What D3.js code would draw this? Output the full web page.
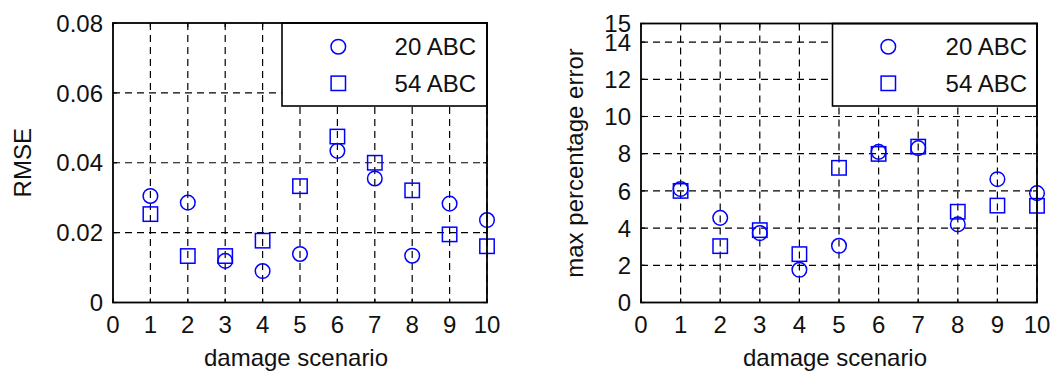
<!DOCTYPE html>
<html>
<head>
<meta charset="utf-8">
<script src="https://cdn.jsdelivr.net/npm/d3@7"></script>
<style>
  html, body { margin: 0; padding: 0; background: #fff; }
  svg { display: block; }
  text { font-family: "Liberation Sans", Arial, sans-serif; fill: #111; }
</style>
</head>
<body>
<svg id="chart" width="1053" height="374"></svg>
<script>
// ---- data ----
const scenarios = [1, 2, 3, 4, 5, 6, 7, 8, 9, 10];
const rmse20 = [0.0305, 0.0286, 0.0119, 0.0090, 0.0139, 0.0434, 0.0355, 0.0134, 0.0283, 0.0236];
const rmse54 = [0.0253, 0.0133, 0.0133, 0.0177, 0.0333, 0.0475, 0.0400, 0.0321, 0.0195, 0.0161];
const mpe20 = [6.1, 4.55, 3.73, 1.76, 3.05, 8.1, 8.3, 4.2, 6.63, 5.88];
const mpe54 = [6.0, 3.03, 3.89, 2.60, 7.24, 7.99, 8.38, 4.88, 5.21, 5.2];
const xTicks = [0, 1, 2, 3, 4, 5, 6, 7, 8, 9, 10];
const rmseTicks = [0, 0.02, 0.04, 0.06, 0.08];
const mpeTicks = [0, 2, 4, 6, 8, 10, 12, 14, 15];
const mpeGrid = [2, 4, 6, 8, 10, 12, 14];
const seriesNames = ["20 ABC", "54 ABC"];
const xLabel = "damage scenario";

const svg = d3.select("#chart");
const blue = "#0000ff";

function panel(cfg) {
  const x = d3.scaleLinear().domain([0, 10]).range([cfg.left, cfg.right]);
  const y = d3.scaleLinear().domain(cfg.yDomain).range([cfg.bottom, cfg.top]);
  const g = svg.append("g");

  // grid (dashed)
  const grid = g.append("g").attr("stroke", "#000").attr("stroke-width", 1.2)
    .attr("stroke-dasharray", "7,5");
  grid.selectAll("line.vx").data(scenarios).join("line")
    .attr("x1", d => x(d)).attr("x2", d => x(d))
    .attr("y1", cfg.top).attr("y2", cfg.bottom);
  grid.selectAll("line.hy").data(cfg.yGrid).join("line")
    .attr("x1", cfg.left).attr("x2", cfg.right)
    .attr("y1", d => y(d)).attr("y2", d => y(d));

  // ticks (inward) on all four sides
  const tk = 4;
  const ticks = g.append("g").attr("stroke", "#000").attr("stroke-width", 1.2);
  xTicks.forEach(v => {
    ticks.append("line").attr("x1", x(v)).attr("x2", x(v)).attr("y1", cfg.bottom).attr("y2", cfg.bottom - tk);
    ticks.append("line").attr("x1", x(v)).attr("x2", x(v)).attr("y1", cfg.top).attr("y2", cfg.top + tk);
  });
  cfg.yTicks.forEach(v => {
    ticks.append("line").attr("x1", cfg.left).attr("x2", cfg.left + tk).attr("y1", y(v)).attr("y2", y(v));
    ticks.append("line").attr("x1", cfg.right).attr("x2", cfg.right - tk).attr("y1", y(v)).attr("y2", y(v));
  });

  // legend box
  const lg = g.append("g");
  lg.append("rect").attr("x", cfg.legLeft).attr("y", cfg.top)
    .attr("width", cfg.right - cfg.legLeft).attr("height", cfg.legBottom - cfg.top)
    .attr("fill", "#fff").attr("stroke", "#000").attr("stroke-width", 1.6);
  const rowY = [46.7, 83.3];
  lg.append("circle").attr("cx", cfg.legMarkX).attr("cy", rowY[0]).attr("r", 7.3)
    .attr("fill", "none").attr("stroke", blue).attr("stroke-width", 1.5);
  lg.append("rect").attr("x", cfg.legMarkX - 7.2).attr("y", rowY[1] - 7.2)
    .attr("width", 14.4).attr("height", 14.4)
    .attr("fill", "none").attr("stroke", blue).attr("stroke-width", 1.5);
  seriesNames.forEach((n, i) => {
    lg.append("text").attr("x", cfg.legTextRight).attr("y", rowY[i]).attr("dy", "0.36em")
      .attr("text-anchor", "end").attr("font-size", 24).text(n);
  });

  // markers
  const m = g.append("g").attr("fill", "none").attr("stroke", blue).attr("stroke-width", 1.5);
  m.selectAll("circle").data(scenarios).join("circle")
    .attr("cx", d => x(d)).attr("cy", (d, i) => y(cfg.s1[i])).attr("r", 7.3);
  m.selectAll("rect").data(scenarios).join("rect")
    .attr("x", d => x(d) - 7.2).attr("y", (d, i) => y(cfg.s2[i]) - 7.2)
    .attr("width", 14.4).attr("height", 14.4);

  // frame
  g.append("rect").attr("x", cfg.left).attr("y", cfg.top)
    .attr("width", cfg.right - cfg.left).attr("height", cfg.bottom - cfg.top)
    .attr("fill", "none").attr("stroke", "#000").attr("stroke-width", 1.8);

  // tick labels
  g.selectAll("text.xt").data(xTicks).join("text")
    .attr("x", d => x(d)).attr("y", cfg.bottom + 30)
    .attr("text-anchor", "middle").attr("font-size", 24).text(d => d);
  g.selectAll("text.yt").data(cfg.yTicks).join("text")
    .attr("x", cfg.left - 10).attr("y", d => y(d)).attr("dy", "0.36em")
    .attr("text-anchor", "end").attr("font-size", 24).text(cfg.yFmt);

  // axis labels
  g.append("text").attr("x", (cfg.left + cfg.right) / 2 - 4).attr("y", 366)
    .attr("text-anchor", "middle").attr("font-size", 24).text(xLabel);
  g.append("text")
    .attr("transform", `translate(${cfg.yLabelX},${(cfg.top + cfg.bottom) / 2}) rotate(-90)`)
    .attr("text-anchor", "middle").attr("font-size", 24).text(cfg.yLabel);
}

panel({
  left: 113, right: 487, top: 23, bottom: 302.5,
  yDomain: [0, 0.08], yTicks: rmseTicks, yGrid: [0.02, 0.04, 0.06],
  yFmt: d => d === 0 ? "0" : d3.format(".2f")(d),
  s1: rmse20, s2: rmse54,
  legLeft: 282, legBottom: 106, legMarkX: 338.3, legTextRight: 476,
  yLabel: "RMSE", yLabelX: 31
});

panel({
  left: 641, right: 1037, top: 23.5, bottom: 302.5,
  yDomain: [0, 15], yTicks: mpeTicks, yGrid: mpeGrid,
  yFmt: d => String(d),
  s1: mpe20, s2: mpe54,
  legLeft: 832.5, legBottom: 106, legMarkX: 888.3, legTextRight: 1027,
  yLabel: "max percentage error", yLabelX: 583
});
</script>
</body>
</html>
